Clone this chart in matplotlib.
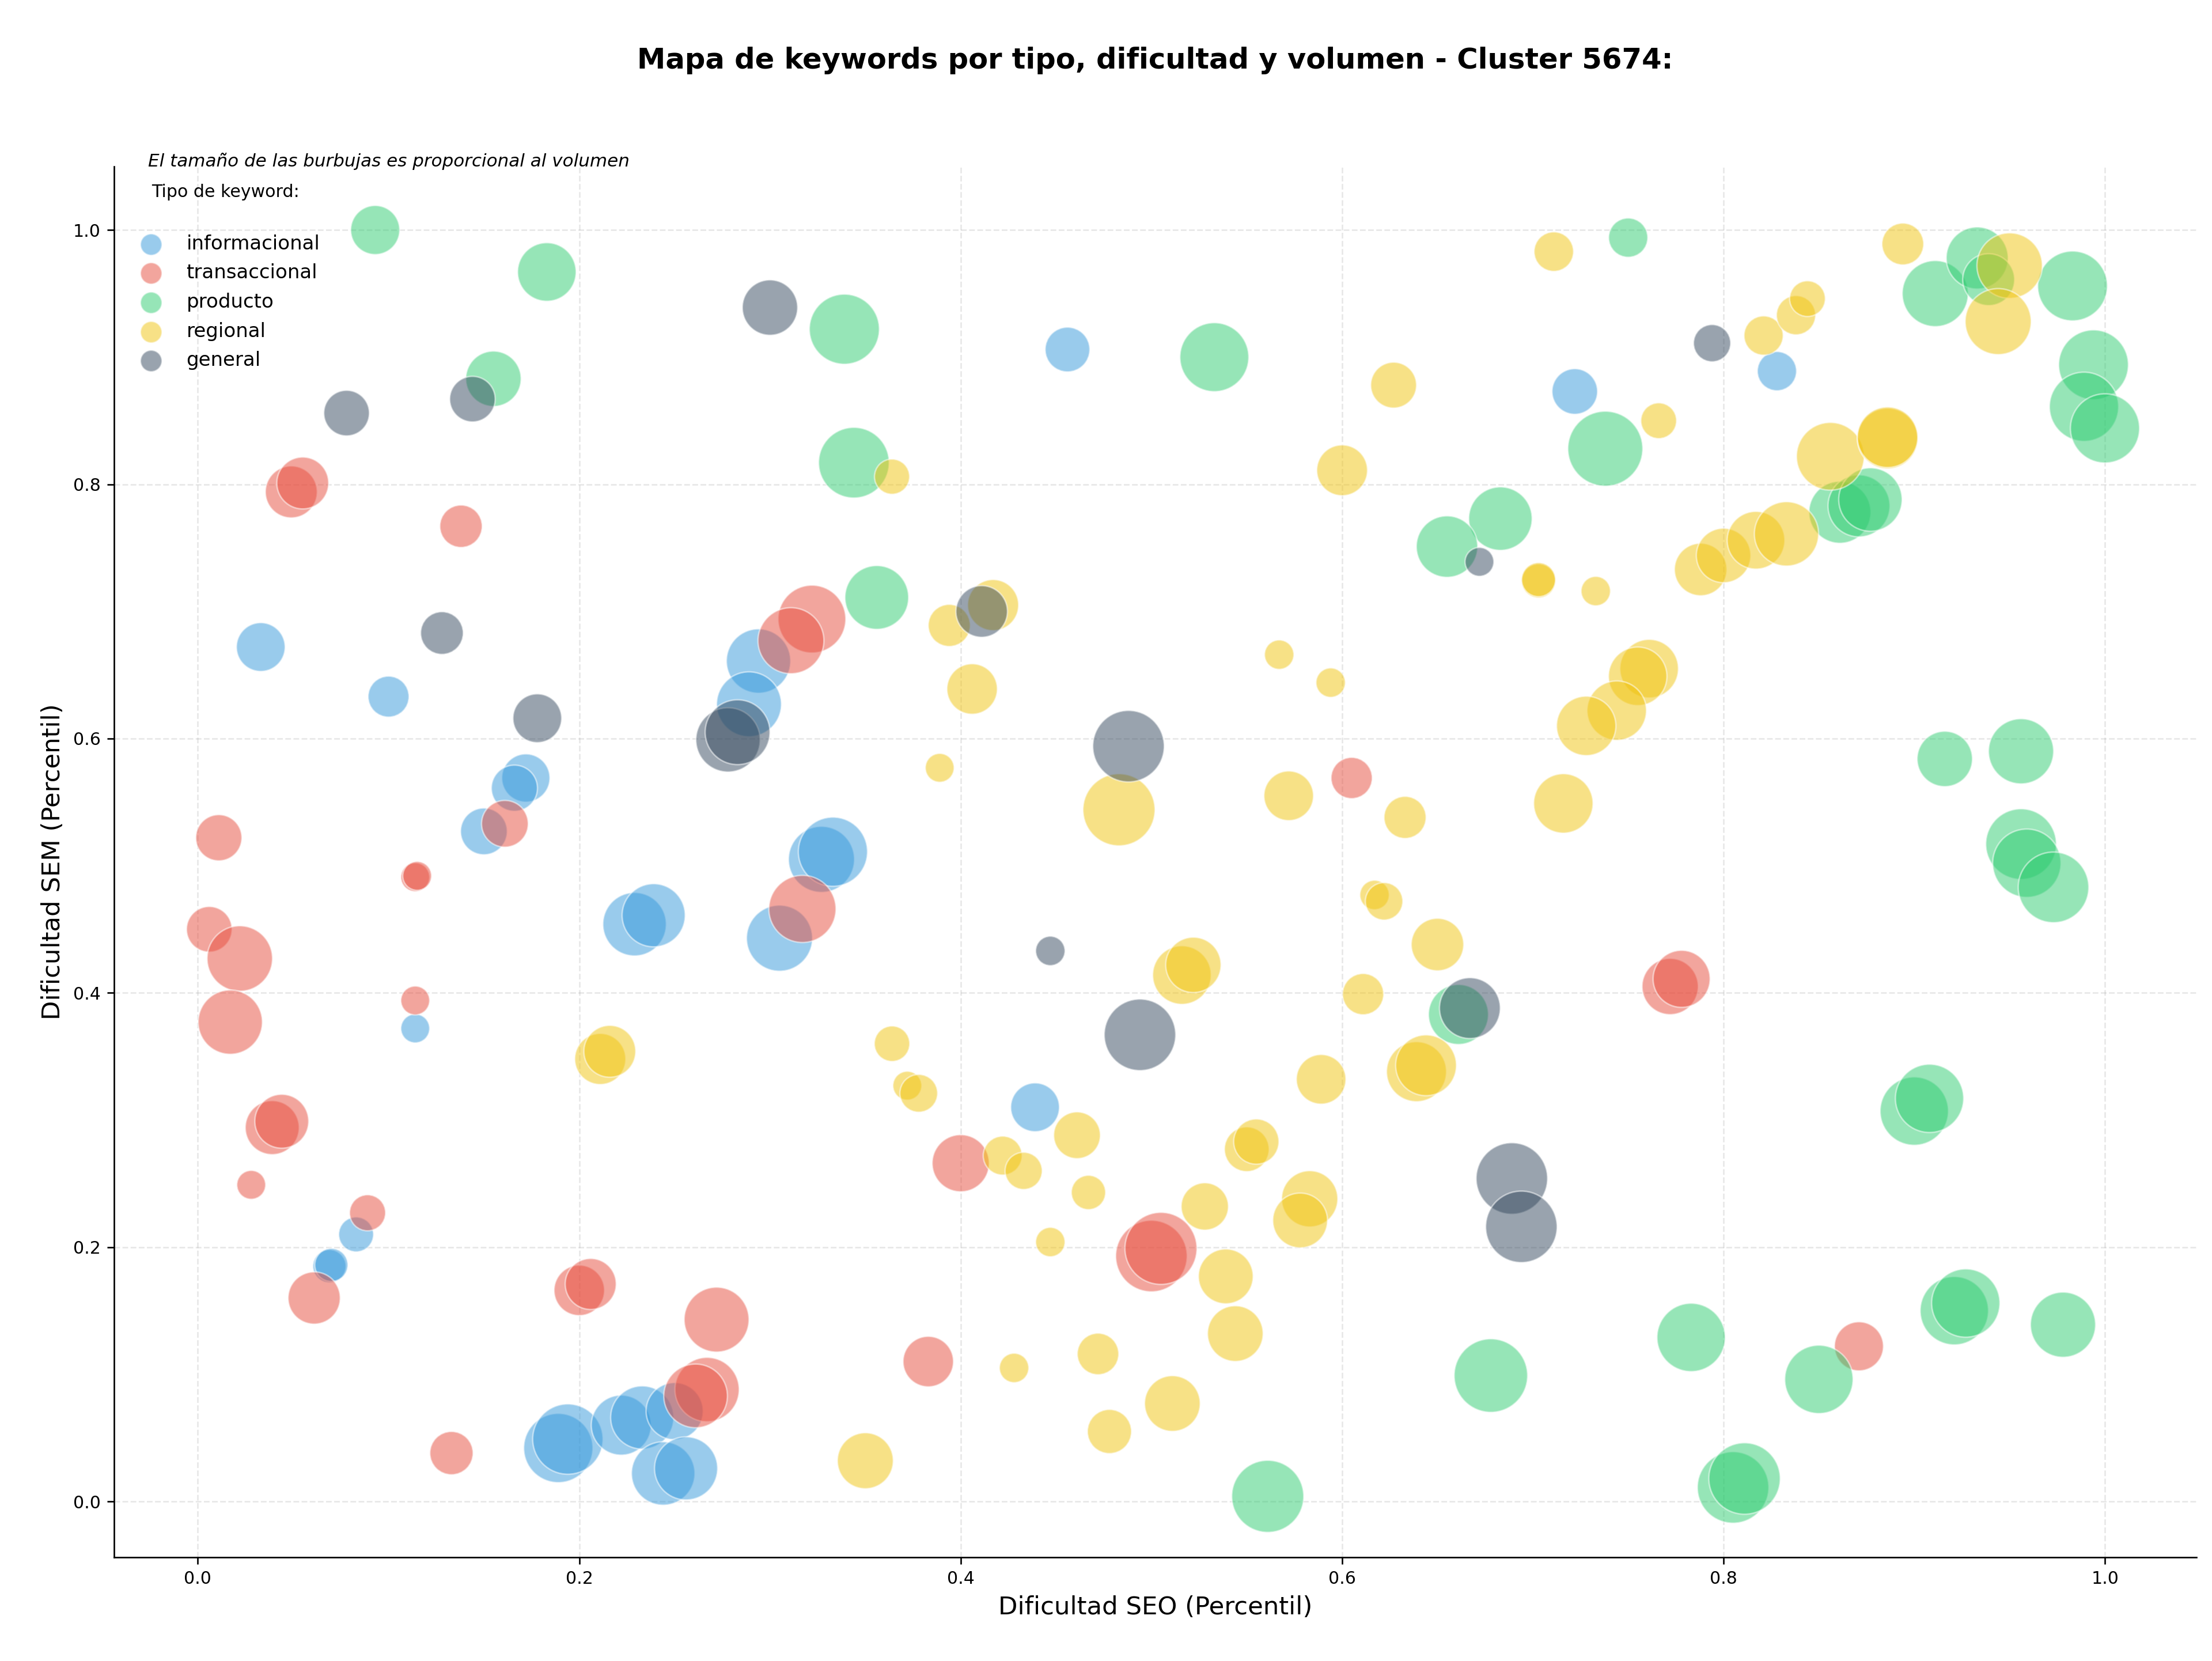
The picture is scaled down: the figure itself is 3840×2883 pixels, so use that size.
import matplotlib
matplotlib.use("Agg")
import matplotlib.pyplot as plt

# ---------------- data ----------------
tipos = ["informacional", "transaccional", "producto", "regional", "general"]
colores = {"informacional": "#3498db", "transaccional": "#e74c3c",
           "producto": "#2ecc71", "regional": "#f1c40f", "general": "#34495e"}

info_seo = [0.033, 0.100, 0.172, 0.166, 0.150, 0.114, 0.083, 0.069, 0.070, 0.229,
            0.239, 0.294, 0.289, 0.305, 0.327, 0.333, 0.189, 0.194, 0.222, 0.233,
            0.250, 0.244, 0.256, 0.439, 0.456, 0.722, 0.828]
info_sem = [0.672, 0.633, 0.569, 0.561, 0.527, 0.372, 0.210, 0.185, 0.186, 0.454,
            0.461, 0.661, 0.627, 0.443, 0.505, 0.511, 0.042, 0.049, 0.060, 0.066,
            0.071, 0.022, 0.026, 0.310, 0.906, 0.873, 0.889]
info_vol = [2856, 2016, 2789, 2560, 2624, 1000, 1464, 1322, 1322, 4840,
            4796, 4973, 5062, 5244, 5244, 5760, 5760, 5954, 4326, 4796,
            3920, 4840, 4796, 2856, 2402, 2496, 1850]

trans_seo = [0.049, 0.055, 0.138, 0.011, 0.006, 0.022, 0.017, 0.114, 0.115, 0.114,
             0.161, 0.039, 0.044, 0.028, 0.089, 0.061, 0.200, 0.206, 0.133, 0.272,
             0.267, 0.261, 0.322, 0.311, 0.317, 0.383, 0.400, 0.500, 0.505, 0.605,
             0.772, 0.778, 0.871]
trans_sem = [0.794, 0.801, 0.767, 0.522, 0.450, 0.427, 0.377, 0.491, 0.492, 0.394,
             0.533, 0.294, 0.299, 0.249, 0.227, 0.160, 0.166, 0.171, 0.038, 0.143,
             0.088, 0.083, 0.694, 0.677, 0.466, 0.110, 0.266, 0.193, 0.199, 0.569,
             0.405, 0.411, 0.122]
trans_vol = [3240, 3240, 2161, 2560, 2496, 5153, 4973, 1000, 1000, 1000,
             2624, 3497, 3497, 1000, 1562, 3276, 3062, 3133, 2250, 5062,
             4973, 4884, 5522, 5244, 5429, 3062, 3920, 6150, 6250, 2045,
             3802, 3920, 2890]

prod_seo = [0.093, 0.183, 0.155, 0.339, 0.344, 0.356, 0.533, 0.738, 0.683, 0.655,
            0.750, 0.861, 0.871, 0.877, 0.911, 0.933, 0.939, 0.983, 0.994, 0.989,
            1.000, 0.916, 0.956, 0.956, 0.959, 0.973, 0.900, 0.908, 0.921, 0.927,
            0.978, 0.850, 0.783, 0.805, 0.811, 0.678, 0.561, 0.661]
prod_sem = [1.000, 0.967, 0.883, 0.922, 0.817, 0.711, 0.900, 0.828, 0.773, 0.751,
            0.994, 0.778, 0.783, 0.788, 0.950, 0.978, 0.961, 0.956, 0.894, 0.861,
            0.844, 0.584, 0.590, 0.517, 0.502, 0.483, 0.307, 0.317, 0.150, 0.156,
            0.139, 0.096, 0.129, 0.011, 0.018, 0.099, 0.004, 0.383]
prod_vol = [2890, 4121, 3686, 5905, 6002, 4884, 5712, 6760, 4840, 4537,
            1850, 4622, 4622, 4840, 5244, 4622, 3240, 5856, 5856, 5760,
            5760, 3686, 5108, 6002, 5617, 6002, 5617, 5617, 5617, 5617,
            5108, 5617, 5617, 6150, 6150, 6502, 6250, 4326]

reg_seo = [0.364, 0.394, 0.417, 0.406, 0.389, 0.567, 0.594, 0.600, 0.627, 0.711,
           0.703, 0.703, 0.733, 0.766, 0.821, 0.838, 0.844, 0.894, 0.856, 0.886,
           0.886, 0.950, 0.944, 0.788, 0.800, 0.817, 0.833, 0.761, 0.755, 0.744,
           0.728, 0.716, 0.483, 0.572, 0.633, 0.617, 0.622, 0.650, 0.611, 0.516,
           0.522, 0.589, 0.639, 0.644, 0.550, 0.555, 0.583, 0.578, 0.528, 0.539,
           0.544, 0.511, 0.478, 0.472, 0.428, 0.447, 0.467, 0.461, 0.422, 0.433,
           0.364, 0.372, 0.378, 0.211, 0.216, 0.350]
reg_sem = [0.806, 0.689, 0.705, 0.639, 0.577, 0.666, 0.644, 0.811, 0.878, 0.983,
           0.724, 0.725, 0.716, 0.850, 0.917, 0.933, 0.946, 0.989, 0.822, 0.836,
           0.837, 0.972, 0.928, 0.733, 0.744, 0.756, 0.761, 0.655, 0.649, 0.622,
           0.610, 0.549, 0.544, 0.555, 0.538, 0.477, 0.472, 0.438, 0.399, 0.414,
           0.422, 0.332, 0.338, 0.343, 0.277, 0.283, 0.238, 0.221, 0.232, 0.177,
           0.132, 0.077, 0.055, 0.116, 0.105, 0.204, 0.243, 0.288, 0.272, 0.260,
           0.360, 0.327, 0.321, 0.348, 0.354, 0.032]
reg_vol = [1488, 2132, 3133, 3062, 1000, 1040, 1040, 3098, 2528, 1877,
           1392, 1392, 1040, 1538, 1850, 1850, 1538, 2102, 5522, 4410,
           4410, 5153, 5244, 3312, 3572, 4000, 4973, 4121, 4121, 4244,
           4244, 4244, 6250, 2958, 2132, 1040, 1690, 3312, 2045, 4121,
           3686, 2958, 4326, 4452, 2402, 2465, 3802, 3610, 2690, 3610,
           3725, 3725, 2341, 2074, 1040, 1040, 1416, 2624, 1822, 1664,
           1513, 1000, 1716, 3133, 3240, 3764]

gen_seo = [0.078, 0.144, 0.300, 0.128, 0.178, 0.278, 0.283, 0.411, 0.488, 0.494,
           0.447, 0.667, 0.672, 0.794, 0.689, 0.694]
gen_sem = [0.856, 0.867, 0.939, 0.683, 0.616, 0.599, 0.605, 0.700, 0.594, 0.367,
           0.433, 0.388, 0.739, 0.911, 0.254, 0.216]
gen_vol = [2496, 2496, 3686, 2190, 2856, 4973, 5062, 3204, 6150, 6150,
           1040, 4452, 1000, 1664, 6150, 6150]

series = {
    "informacional": (info_seo, info_sem, info_vol),
    "transaccional": (trans_seo, trans_sem, trans_vol),
    "producto": (prod_seo, prod_sem, prod_vol),
    "regional": (reg_seo, reg_sem, reg_vol),
    "general": (gen_seo, gen_sem, gen_vol),
}

titulo = "Mapa de keywords por tipo, dificultad y volumen - Cluster 5674:"
nota = "El tamaño de las burbujas es proporcional al volumen"
titulo_leyenda = "Tipo de keyword:"

# ---------------- plot ----------------
plt.rcParams["font.family"] = ["DejaVu Sans"]
fig = plt.figure(figsize=(16, 12.0125), dpi=240)
ax = fig.add_axes([0.0515, 0.0624, 0.993 - 0.0515, 0.8998 - 0.0624])

escala = 0.225
for t in tipos:
    xs, ys, vs = series[t]
    ax.scatter(xs, ys, s=[v * escala for v in vs], color=colores[t], alpha=0.5,
               edgecolors="white", linewidths=0.8, zorder=3)

handles = [ax.scatter([], [], s=125, color=colores[t], alpha=0.5,
                      edgecolors="white", linewidths=0.8, label=t) for t in tipos]

ax.set_xlim(-0.044, 1.048)
ax.set_ylim(-0.044, 1.05)
ax.set_xticks([0.0, 0.2, 0.4, 0.6, 0.8, 1.0])
ax.set_yticks([0.0, 0.2, 0.4, 0.6, 0.8, 1.0])
ax.tick_params(labelsize=9)
ax.grid(True, linestyle="--", alpha=0.3)
ax.set_axisbelow(True)
ax.spines["top"].set_visible(False)
ax.spines["right"].set_visible(False)

ax.set_xlabel("Dificultad SEO (Percentil)", fontsize=13)
ax.set_ylabel("Dificultad SEM (Percentil)", fontsize=13)
ax.set_title(titulo, fontsize=14.9, fontweight="bold", pad=51)

ax.text(0.0163, 1.0, nota, transform=ax.transAxes, fontsize=9.3,
        style="italic", va="baseline", ha="left")

leg = ax.legend(handles=handles, loc="upper left", frameon=False, fontsize=10.2,
                title=titulo_leyenda + "\n", title_fontsize=9, labelspacing=0.52)
leg.get_title().set_linespacing(1.5)

fig.savefig("out.png", dpi=240)
